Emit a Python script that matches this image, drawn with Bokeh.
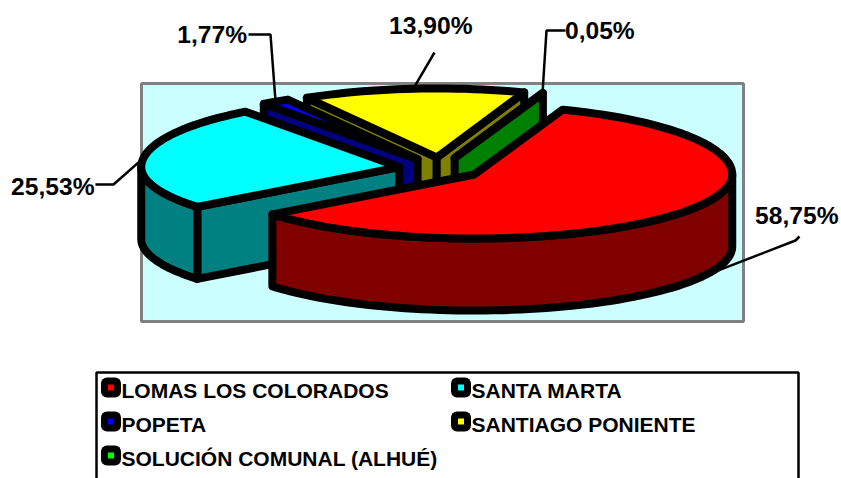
import math
from bokeh.plotting import figure
from bokeh.models import Range1d
from bokeh.core.properties import value
from bokeh.embed import file_html
from bokeh.resources import INLINE

categories = ["LOMAS LOS COLORADOS", "SANTA MARTA", "POPETA", "SANTIAGO PONIENTE", "SOLUCIÓN COMUNAL (ALHUÉ)"]
values = [58.75, 25.53, 1.77, 13.90, 0.05]
top_colors = ["#FF0000", "#00FFFF", "#0000FF", "#FFFF00", "#00FF00"]
wall_colors = ["#800000", "#008080", "#000080", "#808000", "#008000"]
draw_order = [3, 4, 2, 1, 0]

# layout (all in page pixels of the reference)
FONT = "Liberation Sans"
CX, CY = 440.0, 168.0
RX, RY_BACK, RY_FRONT = 258.0, 69.0, 64.0
DEPTH = 72.0
EXPLODE = 41.6
START = 20.0
STROKE = 8
label_xy = [(838, 215), (94, 186), (246.5, 34), (472, 25), (564.5, 30)]
elbows = [[(799, 236), (795, 240)], [(95, 184), (113, 184)], [(248, 34), (270, 34)], [(434, 52)], [(565, 30), (546, 30)]]
label_align = ["right", "right", "right", "right", "left"]

p = figure(width=841, height=478, output_backend="svg", toolbar_location=None,
           x_range=Range1d(0, 841), y_range=Range1d(478, 0), min_border=0,
           outline_line_color=None, border_fill_color="white")
p.axis.visible = False
p.grid.visible = False


def polar(c, theta, r=1.0):
    t = math.radians(theta)
    ry = RY_BACK if math.cos(t) > 0 else RY_FRONT
    return c[0] + r * RX * math.sin(t), c[1] - r * ry * math.cos(t)


def arc(c, a, b):
    n = max(2, int(abs(b - a) / 2) + 2)
    return [polar(c, a + (b - a) * i / (n - 1)) for i in range(n)]


def poly(pts, fill):
    p.patch([q[0] for q in pts], [q[1] for q in pts], fill_color=fill, line_color="black",
            line_width=STROKE, line_join="round")


# plot area
p.quad(left=[141], right=[743], top=[83], bottom=[321], fill_color="#CCFFFF", line_color="#808080", line_width=3)

# slices' angles
total = sum(values)
spans, a = [], START
for v in values:
    b = a + v / total * 360.0
    spans.append((a, b))
    a = b
centers = [polar((CX, CY), (s + e) / 2, EXPLODE / RX) for s, e in spans]

# leader lines (behind the pie), ending on each slice's rim
for i, (s, e) in enumerate(spans):
    mid = (s + e) / 2
    ax, ay = polar(centers[i], mid)
    if math.cos(math.radians(mid)) < 0:
        ay += DEPTH
    path = elbows[i] + [(ax, ay)]
    p.line([q[0] for q in path], [q[1] for q in path], line_color="black", line_width=2.5)

# pie, back to front
for i in draw_order:
    s, e = spans[i]
    c = centers[i]
    below = lambda q: (q[0], q[1] + DEPTH)
    for th, vis in ((s, math.sin(math.radians(s)) < 0), (e, math.sin(math.radians(e)) > 0)):
        if vis:
            rim = polar(c, th)
            poly([c, rim, below(rim), below(c)], wall_colors[i])
    lo, hi = max(s, 90), min(e, 270)
    if hi > lo:
        rim = arc(c, lo, hi)
        poly(rim + [below(q) for q in reversed(rim)], wall_colors[i])
    poly([c] + arc(c, s, e), top_colors[i])

# data labels
for i, v in enumerate(values):
    p.text([label_xy[i][0]], [label_xy[i][1]], text=[f"{v:.2f}%".replace(".", ",")],
           text_font=value(FONT), text_font_style="bold", text_font_size="24.6px",
           text_align=label_align[i], text_baseline="middle", text_color="black")

# legend
p.quad(left=[96], right=[798], top=[372], bottom=[495], fill_color="white", line_color="black", line_width=2.5)
leg_x = [110.5, 460.5, 110.5, 460.5, 110.5]
leg_y = [387, 387, 421, 421, 455]
for i, name in enumerate(categories):
    p.scatter([leg_x[i]], [leg_y[i]], marker="square", size=8, fill_color="black", line_color="black",
              line_width=12, line_join="round")
    p.scatter([leg_x[i]], [leg_y[i]], marker="square", size=6, fill_color=top_colors[i], line_color=None)
    p.text([leg_x[i] + 10.5], [leg_y[i] + 3], text=[name], text_font=value(FONT), text_font_style="bold",
           text_font_size="21px", text_align="left", text_baseline="middle", text_color="black")

open("out.html", "w").write(file_html(p, INLINE))
